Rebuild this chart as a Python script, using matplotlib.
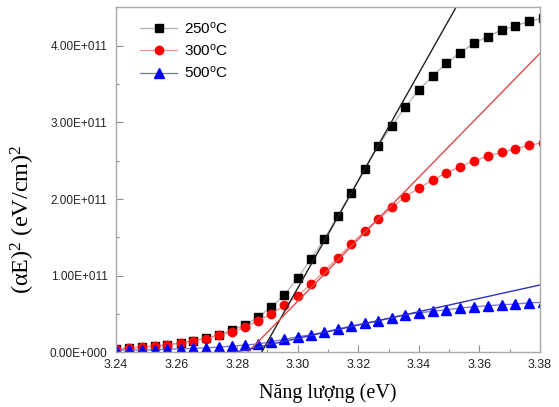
import numpy as np
import matplotlib
matplotlib.use("Agg")
import matplotlib.pyplot as plt

plt.rcParams['font.family'] = ['Liberation Sans', 'DejaVu Sans']
plt.rcParams['mathtext.default'] = 'regular'

# photon energy (eV)
energy = [3.2400, 3.2443, 3.2485, 3.2528, 3.2570, 3.2613, 3.2655, 3.2698,
          3.2741, 3.2783, 3.2826, 3.2869, 3.2912, 3.2956, 3.3000, 3.3044,
          3.3088, 3.3132, 3.3177, 3.3221, 3.3266, 3.3311, 3.3355, 3.3400,
          3.3446, 3.3491, 3.3536, 3.3582, 3.3627, 3.3673, 3.3718, 3.3764,
          3.3810]

# (alpha*E)^2 in units of 1e11 (eV/cm)^2
t250 = [0.040, 0.050, 0.065, 0.080, 0.095, 0.120, 0.150, 0.180, 0.225, 0.290,
        0.355, 0.455, 0.588, 0.745, 0.967, 1.216, 1.477, 1.778, 2.082, 2.396,
        2.697, 2.958, 3.203, 3.425, 3.608, 3.774, 3.912, 4.035, 4.122, 4.209,
        4.261, 4.323, 4.362]
t300 = [0.035, 0.052, 0.065, 0.078, 0.095, 0.118, 0.148, 0.174, 0.218, 0.265,
        0.323, 0.412, 0.493, 0.610, 0.736, 0.889, 1.059, 1.233, 1.412, 1.582,
        1.739, 1.889, 2.030, 2.140, 2.248, 2.344, 2.422, 2.497, 2.562, 2.610,
        2.654, 2.702, 2.736]
t500 = [0.026, 0.026, 0.026, 0.030, 0.035, 0.043, 0.048, 0.056, 0.065, 0.078,
        0.092, 0.105, 0.135, 0.166, 0.200, 0.226, 0.261, 0.301, 0.340, 0.375,
        0.409, 0.448, 0.488, 0.514, 0.532, 0.553, 0.575, 0.592, 0.605, 0.618,
        0.627, 0.644, 0.650]

labels = ['250$^{o}$C', '300$^{o}$C', '500$^{o}$C']

# linear fits: band gap (x-intercept, eV) and slope (1e11 per eV)
gap = [3.2881, 3.2836, 3.2795]
slope = [70.2, 40.5, 8.72]

yticks = [0, 1, 2, 3, 4]
ytick_labels = ['0.00E+000', '1.00E+011', '2.00E+011', '3.00E+011', '4.00E+011']
xticks = [3.24, 3.26, 3.28, 3.30, 3.32, 3.34, 3.36, 3.38]

fig = plt.figure(figsize=(5.59, 4.07), dpi=100)
ax = fig.add_axes([0.2075, 0.135, 0.7585, 0.848])

styles = [('s', 'black', '#b0b0b0', 5.3),
          ('o', '#ff0000', '#f09090', 6.0),
          ('^', '#0000ff', '#7070e0', 6.8)]
fitcol = ['#202020', '#e04848', '#3030c0']

for y, lab, (m, c, lc, ms) in zip([t250, t300, t500], labels, styles):
    ax.plot(energy, y, '-', marker=m, color=lc, mfc=c, mec=c, ms=ms,
            lw=0.9, label=lab)

for g, k, c in zip(gap, slope, fitcol):
    xx = np.array([g, 3.38])
    ax.plot(xx, k * (xx - g), '-', color=c, lw=1.0)

ax.set_xlim(3.24, 3.38)
ax.set_ylim(0, 4.51)
ax.set_xticks(xticks)
ax.set_xticklabels(['%.2f' % v for v in xticks])
ax.set_xticks(np.arange(3.25, 3.38, 0.02), minor=True)
ax.set_yticks(yticks)
ax.set_yticklabels(ytick_labels)
ax.set_yticks([0.5, 1.5, 2.5, 3.5], minor=True)

for s in ax.spines.values():
    s.set_color('#a8a8a8')
    s.set_linewidth(1.0)
ax.tick_params(which='both', direction='in', color='#909090', labelcolor='#222222')
ax.tick_params(which='major', length=4.8, width=0.8)
ax.tick_params(which='minor', length=2.5, width=0.8)
ax.tick_params(axis='x', labelsize=9, pad=5)
ax.tick_params(axis='y', labelsize=8.5, pad=6)

ax.set_xlabel('Năng lượng (eV)', family='Liberation Serif', fontsize=14.5)
ax.xaxis.set_label_coords(0.5, -0.09)
ax.set_ylabel('(αE)$^{2}$ (eV/cm)$^{2}$', family='Liberation Serif', fontsize=17.5)
ax.yaxis.set_label_coords(-0.186, 0.385)

ax.legend(loc='upper left', bbox_to_anchor=(0.025, 1.0), frameon=False,
          fontsize=11, handlelength=2.4, handletextpad=0.45, labelspacing=0.4)

fig.savefig('out.png', dpi=100)
